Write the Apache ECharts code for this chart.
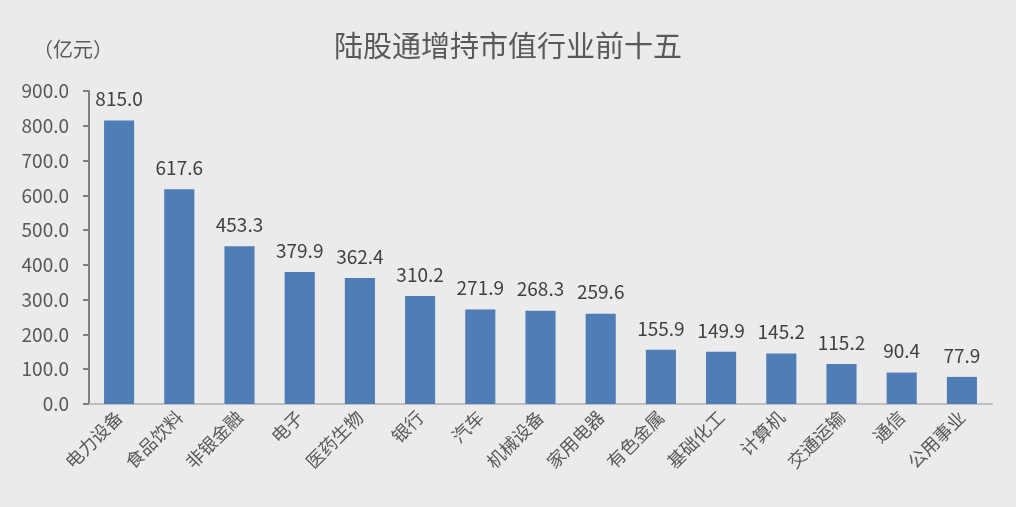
<!DOCTYPE html>
<html lang="zh">
<head>
<meta charset="UTF-8">
<title>陆股通增持市值行业前十五</title>
<script src="https://cdn.jsdelivr.net/npm/echarts@6/dist/echarts.min.js"></script>
<style>
  html, body { margin: 0; padding: 0; background: #ebebeb; }
  #box { width: 1016px; height: 507px; }
</style>
</head>
<body>
<div id="box"></div>
<script>
  // 行业
  const industries = ['电力设备', '食品饮料', '非银金融', '电子', '医药生物', '银行', '汽车', '机械设备',
    '家用电器', '有色金属', '基础化工', '计算机', '交通运输', '通信', '公用事业'];
  // 增持市值（亿元）
  const values = [815.0, 617.6, 453.3, 379.9, 362.4, 310.2, 271.9, 268.3, 259.6, 155.9, 149.9, 145.2, 115.2, 90.4, 77.9];

  const font = 'Microsoft YaHei, "Noto Sans CJK SC", sans-serif';
  const chart = echarts.init(document.getElementById('box'));
  chart.setOption({
    backgroundColor: '#ebebeb',
    title: {
      text: '陆股通增持市值行业前十五',
      left: 'center',
      top: 26,
      textStyle: { fontFamily: font, fontSize: 29, fontWeight: 'normal', color: '#595959' }
    },
    graphic: [{
      type: 'text',
      left: 33,
      top: 39,
      style: { text: '（亿元）', font: '20px ' + font, fill: '#595959' }
    }],
    grid: { left: 89, right: 24, top: 91, bottom: 103, containLabel: false },
    xAxis: {
      type: 'category',
      data: industries,
      axisLine: { lineStyle: { color: '#bfbfbf', width: 2 } },
      axisTick: { show: false },
      axisLabel: { rotate: 45, interval: 0, fontFamily: font, fontSize: 18, color: '#595959', margin: 10 }
    },
    yAxis: {
      type: 'value',
      min: 0,
      max: 900,
      interval: 100,
      axisLine: { show: true, lineStyle: { color: '#7f7f7f', width: 2 } },
      axisTick: { show: true, inside: false, length: 6, lineStyle: { color: '#7f7f7f', width: 2 } },
      splitLine: { show: false },
      axisLabel: {
        fontFamily: font, fontSize: 19, color: '#595959', margin: 20,
        formatter: v => v.toFixed(1)
      }
    },
    series: [{
      type: 'bar',
      data: values,
      barWidth: '50%',
      itemStyle: { color: '#4f7db5' },
      label: {
        show: true,
        position: 'top',
        distance: 12,
        fontFamily: font,
        fontSize: 19,
        color: '#404040',
        formatter: p => p.value.toFixed(1)
      }
    }]
  });
</script>
</body>
</html>
